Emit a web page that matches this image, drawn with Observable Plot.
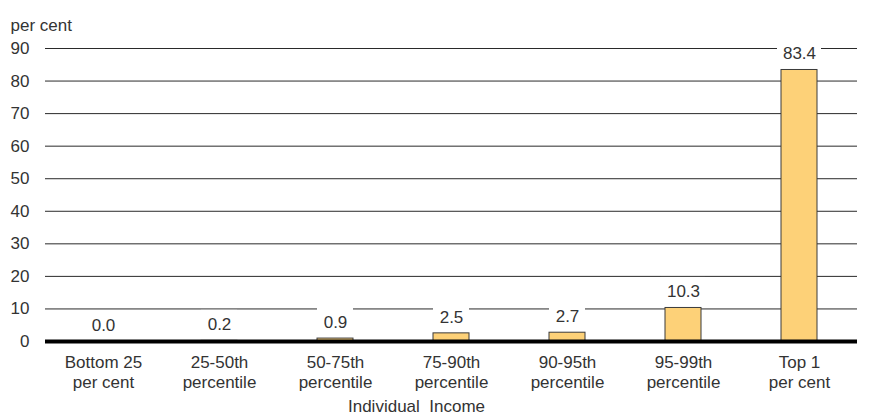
<!DOCTYPE html>
<html>
<head>
<meta charset="utf-8">
<script src="https://cdn.jsdelivr.net/npm/d3@7"></script>
<script src="https://cdn.jsdelivr.net/npm/@observablehq/plot@0.6"></script>
<style>
  html, body { margin: 0; padding: 0; background: #fff; }
  svg { font-family: "Liberation Sans", Arial, sans-serif; }
</style>
</head>
<body>
<div id="chart"></div>
<script>
const categories = [
  "Bottom 25\nper cent",
  "25-50th\npercentile",
  "50-75th\npercentile",
  "75-90th\npercentile",
  "90-95th\npercentile",
  "95-99th\npercentile",
  "Top 1\nper cent"
];
const values = [0.0, 0.2, 0.9, 2.5, 2.7, 10.3, 83.4];
const yTicks = [0, 10, 20, 30, 40, 50, 60, 70, 80, 90];
const gridTicks = [10, 20, 30, 40, 50, 60, 70, 80, 90];
const yTitle = "per cent";
const xTitle = "Individual  Income";

const data = categories.map((c, i) => ({category: c, value: values[i]}));
const short = data.filter(d => d.value.toFixed(1).length <= 3);
const long = data.filter(d => d.value.toFixed(1).length > 3);

const textColor = "#333";
const fs = 17;

const chart = Plot.plot({
  width: 871,
  height: 418,
  marginLeft: 45,
  marginRight: 14,
  marginTop: 48,
  marginBottom: 77,
  style: {fontFamily: "'Liberation Sans', Arial, sans-serif", fontSize: fs + "px", whiteSpace: "pre", background: "#fff"},
  x: {domain: categories, paddingInner: 0.69, paddingOuter: 0.345, align: 0.5},
  y: {domain: [0, 90]},
  marks: [
    Plot.gridY(gridTicks, {stroke: "#2a2a2a", strokeOpacity: 1, strokeWidth: 1}),
    Plot.barY(short, {x: "category", y1: "value", y2: "value", fill: "white", insetTop: -30.5, insetBottom: 1, insetLeft: 0, insetRight: 0}),
    Plot.barY(long, {x: "category", y1: "value", y2: "value", fill: "white", insetTop: -30.5, insetBottom: 1, insetLeft: -4, insetRight: -4}),
    Plot.barY(data, {x: "category", y: "value", fill: "#FDD178", stroke: "#3a3a3a", strokeWidth: 1}),
    Plot.ruleY([0], {stroke: "#000", strokeWidth: 4}),
    Plot.text(data, {x: "category", y: "value", text: d => d.value.toFixed(1), dy: -16, fill: textColor, fontSize: fs}),
    Plot.axisY(yTicks, {tickSize: 0, tickPadding: 16, fontSize: fs, fill: textColor, label: null}),
    Plot.axisX({tickSize: 0, tickPadding: 12, fontSize: fs, fill: textColor, lineHeight: 1.18, label: null}),
    Plot.text([yTitle], {frameAnchor: "top-left", dx: -35, dy: -30, textAnchor: "start", fill: textColor, fontSize: fs}),
    Plot.text([xTitle], {frameAnchor: "bottom", dx: -35, dy: 70, fill: textColor, fontSize: fs})
  ]
});
document.getElementById("chart").appendChild(chart);
</script>
</body>
</html>
